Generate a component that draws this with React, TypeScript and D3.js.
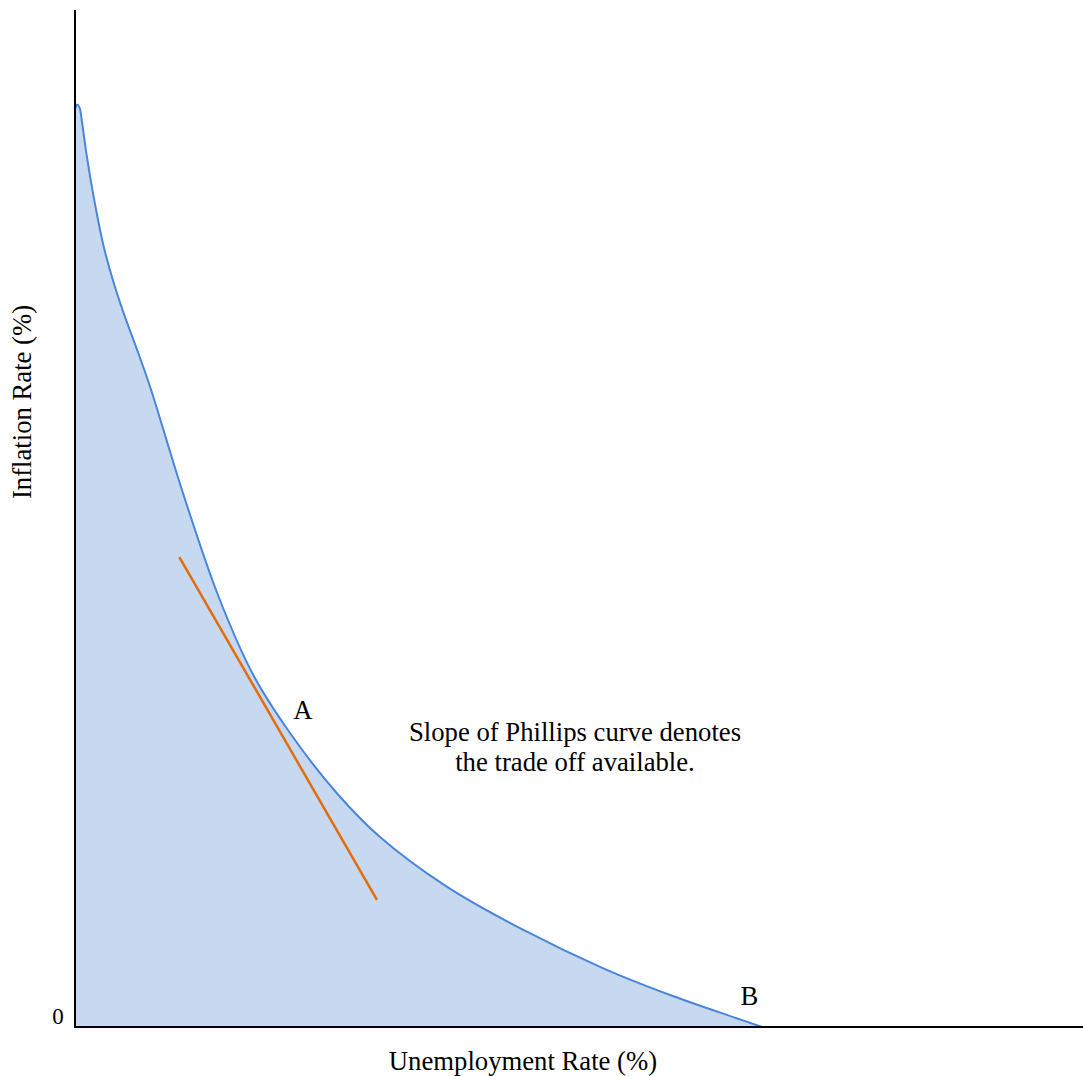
import React from "react";
import * as d3 from "d3";

// Phillips curve (x: unemployment units, y: inflation units)
const curveX = [0.05, 0.23, 0.45, 0.72, 1.16, 1.82, 2.81, 3.8, 4.79, 6.12, 7.44, 10.74, 14.22, 17.69, 21.33, 25.96, 30.26, 36.88, 44.48, 52.41, 59.03, 65.64, 68.15];
const curveY = [90.4, 90.7, 90.4, 88.8, 85.7, 81.8, 76.9, 73.3, 70.3, 66.7, 62.98, 52.41, 42.38, 34.61, 28.91, 23.01, 18.68, 13.8, 9.54, 5.77, 3.15, 0.86, 0];

// Tangent line at A
const tangentX = [10.35, 29.96];
const tangentY = [46.2, 12.5];

const labels = [
  { text: "A", x: 22.6, y: 30.3 },
  { text: "B", x: 66.9, y: 2.2 },
];
const noteLines = ["Slope of Phillips curve denotes", "the trade off available."];
const xTitle = "Unemployment Rate (%)";
const yTitle = "Inflation Rate (%)";
const originLabel = "0";

const W = 1083;
const H = 1076;

export default function App() {
  const x = d3.scaleLinear().domain([0, 100]).range([75, 1083]);
  const y = d3.scaleLinear().domain([0, 100]).range([1027, 10]);
  const pts = curveX.map((v, i) => [v, curveY[i]] as [number, number]);
  const line = d3
    .line<[number, number]>()
    .x((d) => x(d[0]))
    .y((d) => y(d[1]))
    .curve(d3.curveCatmullRom.alpha(0.5));
  const areaPts: [number, number][] = [[0, 90.3], ...pts];
  const area = d3
    .area<[number, number]>()
    .x((d) => x(d[0]))
    .y0(y(0))
    .y1((d) => y(d[1]))
    .curve(d3.curveCatmullRom.alpha(0.5));
  const font = "'Liberation Serif', 'Times New Roman', serif";
  return (
    <svg
      width={W}
      height={H}
      style={{ position: "absolute", left: 0, top: 0, background: "#fff" }}
    >
      <path d={area(areaPts) || ""} fill="#C6D9F0" />
      <path d={line(pts) || ""} fill="none" stroke="#4A86D8" strokeWidth={2} />
      <line
        x1={x(tangentX[0])}
        y1={y(tangentY[0])}
        x2={x(tangentX[1])}
        y2={y(tangentY[1])}
        stroke="#E46C0A"
        strokeWidth={2.5}
      />
      <line x1={x(0)} y1={y(0)} x2={x(100)} y2={y(0)} stroke="#000" strokeWidth={2} />
      <line x1={x(0)} y1={y(0) + 1} x2={x(0)} y2={y(100)} stroke="#000" strokeWidth={2} />
      <g fontFamily={font} fill="#000">
        {labels.map((l) => (
          <text key={l.text} x={x(l.x)} y={y(l.y)} fontSize={26.7} textAnchor="middle">
            {l.text}
          </text>
        ))}
        {noteLines.map((t, i) => (
          <text key={i} x={575} y={741 + i * 30} fontSize={26.7} textAnchor="middle">
            {t}
          </text>
        ))}
        <text x={523} y={1070} fontSize={26.7} textAnchor="middle">
          {xTitle}
        </text>
        <text
          transform={`translate(31, 402) rotate(-90)`}
          fontSize={26.7}
          textAnchor="middle"
        >
          {yTitle}
        </text>
        <text x={58} y={1024} fontSize={23} textAnchor="middle">
          {originLabel}
        </text>
      </g>
    </svg>
  );
}
